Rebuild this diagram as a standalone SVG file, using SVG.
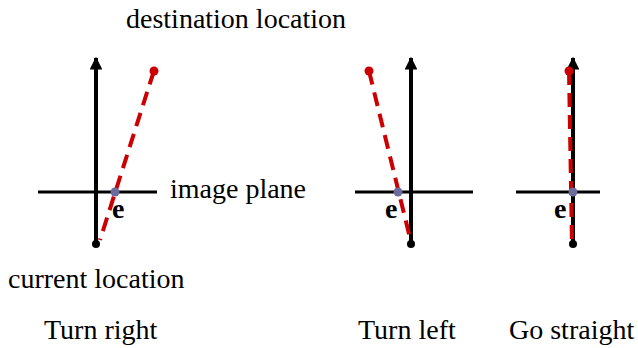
<svg xmlns="http://www.w3.org/2000/svg" width="638" height="348" viewBox="0 0 638 348">
<style>
.t{font-family:"Liberation Serif","Times New Roman",serif;font-size:28px;fill:#000}
.e{font-family:"Liberation Serif","Times New Roman",serif;font-size:28px;font-weight:bold;fill:#000}
.ax{stroke:#000;stroke-width:4;fill:none}
.hz{stroke:#000;stroke-width:3;fill:none}
.rd{stroke:#cc0000;stroke-width:4;stroke-dasharray:14 8;fill:none}
</style>
<defs>
<marker id="ah" viewBox="0 0 10 10" refX="9" refY="5" markerWidth="3.2" markerHeight="3.2" orient="auto" markerUnits="strokeWidth">
<path d="M0,0 L10,5 L0,10 z" fill="#000"/>
</marker>
</defs>
<rect width="638" height="348" fill="#fff"/>
<g id="connectors">
<line class="ax" x1="96" y1="244" x2="96" y2="58" marker-end="url(#ah)"/>
<line class="hz" x1="38" y1="192" x2="157" y2="192"/>
<path class="rd" d="M154,71 L151,80 L100,240"/>
<line class="ax" x1="411" y1="244" x2="411" y2="58" marker-end="url(#ah)"/>
<line class="hz" x1="355" y1="192" x2="473" y2="192"/>
<path class="rd" d="M369,71 L411,242"/>
<line class="ax" x1="573" y1="244" x2="573" y2="58" marker-end="url(#ah)"/>
<line class="hz" x1="516" y1="192" x2="600" y2="192"/>
<path class="rd" d="M569,71 L572,244"/>
</g>
<g id="turn-right">
<circle cx="96" cy="244" r="4" fill="#000"/>
<circle cx="154" cy="71" r="4.5" fill="#cc0000"/>
<circle cx="115" cy="192" r="4.5" fill="#6b6b9e"/>
<text class="e" x="112" y="218">e</text>
</g>
<g id="turn-left">
<circle cx="411" cy="244" r="4" fill="#000"/>
<circle cx="369" cy="71" r="4.5" fill="#cc0000"/>
<circle cx="398" cy="192" r="4.5" fill="#6b6b9e"/>
<text class="e" x="385" y="218">e</text>
</g>
<g id="go-straight">
<circle cx="573" cy="244" r="4" fill="#000"/>
<circle cx="569" cy="71" r="4.5" fill="#cc0000"/>
<circle cx="573" cy="192" r="4.5" fill="#6b6b9e"/>
<text class="e" x="554" y="218">e</text>
</g>
<g id="labels">
<text class="t" x="126" y="28">destination location</text>
<text class="t" x="170" y="198">image plane</text>
<text class="t" x="8" y="288">current location</text>
<text class="t" x="44" y="339">Turn right</text>
<text class="t" x="358" y="339">Turn left</text>
<text class="t" x="509" y="339">Go straight</text>
</g>
</svg>
